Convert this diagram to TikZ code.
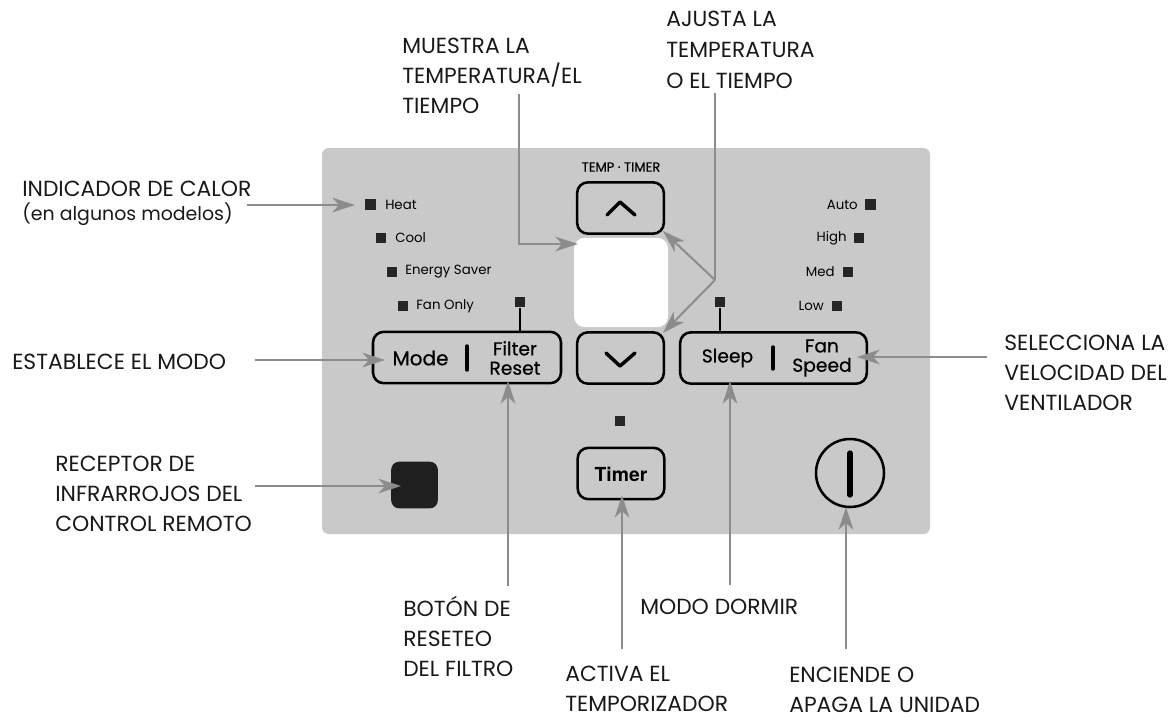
\documentclass[tikz,border=0pt]{standalone}
\usepackage{fontspec}
\setmainfont{Poppins}
\newfontfamily\panelfont[FakeBold=0.5]{Poppins}
\newfontfamily\timerfont{TeX Gyre Heros}
\usetikzlibrary{arrows.meta}
\definecolor{panelgray}{gray}{0.79}
\definecolor{arrowgray}{gray}{0.55}
\tikzset{
 x=0.75pt,y=-0.75pt,
 lab/.style={font=\fontsize{16.4}{22.5}\selectfont,align=left,anchor=north west,inner sep=0pt,text=black!90},
 led/.style={fill=black!85,minimum size=8pt,inner sep=0pt,draw=none,rectangle},
 ledtxt/.style={font=\fontsize{10}{11}\selectfont,inner sep=0pt,text=black},
 btn/.style={draw=black,line width=1.9pt,rounded corners=8pt,inner sep=0pt,fill=panelgray},
 btntxt/.style={font=\panelfont\fontsize{14}{14.5}\selectfont,inner sep=0pt,align=center,text=black},
 call/.style={draw=arrowgray,line width=1.5pt,-{Stealth[length=17pt,width=11pt,inset=5pt]}},
 plain/.style={draw=arrowgray,line width=1.5pt},
 tie/.style={draw=black,line width=2.2pt},
 bar/.style={line width=2.6pt,line cap=round},
 chev/.style={line width=2.6pt,line cap=round,line join=round},
}
\begin{document}
\begin{tikzpicture}
\useasboundingbox (0,0) rectangle (1172,719);
\fill[white] (0,0) rectangle (1172,719);
\node[draw=none,fill=panelgray,rounded corners=5pt,minimum width=456pt,minimum height=289.5pt,inner sep=0pt] (panel) at (626,341) {};
\node[fill=white,rounded corners=8pt,minimum width=70.5pt,minimum height=67pt,inner sep=0pt] (window) at (621,282.5) {};
% buttons
\node[btn,minimum width=65pt,minimum height=38.5pt] (up) at (620.5,208) {};
\node[btn,minimum width=65pt,minimum height=38.5pt] (down) at (620.5,358) {};
\node[btn,minimum width=141pt,minimum height=38.5pt] (mode) at (467,357.5) {};
\node[btn,minimum width=140pt,minimum height=38.5pt] (sleep) at (773.5,358) {};
\node[btn,minimum width=65pt,minimum height=38.5pt] (timer) at (621,473.5) {};
\node[draw=black,line width=1.9pt,circle,minimum size=51pt,inner sep=0pt,fill=panelgray] (power) at (850,473) {};
\node[fill=black!88,rounded corners=6pt,minimum width=35pt,minimum height=35pt,inner sep=0pt] (ir) at (414.5,485) {};
% glyphs
\draw[chev] (607,215) -- (620,202) -- (635,215);
\draw[chev] (606,353) -- (620,366) -- (635,353);
\draw[line width=4pt,line cap=round] (850,453) -- (850,495);
\draw[bar] (467,346) -- (467,370);
\draw[bar] (773,347) -- (773,369);
% button text
\node[btntxt,font=\panelfont\fontsize{15}{15}\selectfont] (tmode) at (420.5,358) {Mode};
\node[btntxt] (tfilter) at (515,358) {Filter\\Reset};
\node[btntxt] (tsleep) at (727.5,358) {Sleep};
\node[btntxt] (tfan) at (822,358) {Fan\\Speed};
\node[btntxt,font=\timerfont\bfseries\fontsize{14.5}{15}\selectfont] (ttimer) at (621,474) {Timer};
\node[ledtxt,font=\panelfont\fontsize{9.8}{11}\selectfont] (ttemp) at (621,167) {TEMP · TIMER};
% LEDs left
\node[led] (l1) at (370.5,204.5) {}; \node[ledtxt,anchor=west] (t1) at (385,204.5) {Heat};
\node[led] (l2) at (381,238) {}; \node[ledtxt,anchor=west] (t2) at (395,238) {Cool};
\node[led] (l3) at (392,272) {}; \node[ledtxt,anchor=west] (t3) at (405,272) {Energy Saver};
\node[led] (l4) at (403,306) {}; \node[ledtxt,anchor=west] (t4) at (416,306) {Fan Only};
\node[led] (l5) at (520,302) {};
% LEDs right
\node[led] (r1) at (870.5,204.5) {}; \node[ledtxt,anchor=east] (u1) at (858,204.5) {Auto};
\node[led] (r2) at (859,238) {}; \node[ledtxt,anchor=east] (u2) at (847,238) {High};
\node[led] (r3) at (848,272) {}; \node[ledtxt,anchor=east] (u3) at (835,272) {Med};
\node[led] (r4) at (837,306) {}; \node[ledtxt,anchor=east] (u4) at (824,306) {Low};
\node[led] (r5) at (720,302) {};
\node[led] (tled) at (620,421) {};
\draw[tie] (l5) -- (l5 |- mode.north);
\draw[tie] (r5) -- (r5 |- sleep.north);
% labels
\node[lab] (a1) at (402,38) {MUESTRA LA\\TEMPERATURA/EL\\TIEMPO};
\node[lab,font=\fontsize{16.4}{23.2}\selectfont] (a2) at (666,11) {AJUSTA LA\\TEMPERATURA\\O EL TIEMPO};
\node[lab,font=\fontsize{16.4}{18}\selectfont] (a3) at (22,181) {INDICADOR DE CALOR\\\fontsize{14.2}{18}\selectfont (en algunos modelos)};
\node[lab] (a4) at (12,354) {ESTABLECE EL MODO};
\node[lab] (a5) at (1004,335) {SELECCIONA LA\\VELOCIDAD DEL\\VENTILADOR};
\node[lab] (a6) at (55,456) {RECEPTOR DE\\INFRARROJOS DEL\\CONTROL REMOTO};
\node[lab] (a7) at (403,596) {BOTÓN DE\\RESETEO\\DEL FILTRO};
\node[lab] (a8) at (640,599) {MODO DORMIR};
\node[lab] (a9) at (565,666) {ACTIVA EL\\TEMPORIZADOR};
\node[lab] (a10) at (789,667) {ENCIENDE O\\APAGA LA UNIDAD};
% connectors
\coordinate (c1a) at (519,94); \coordinate (c1b) at (519,244); \coordinate (c1c) at (578,244);
\draw[call] (c1a) -- (c1b) -- (c1c);
\coordinate (c2a) at (715,93); \coordinate (c2j) at (715,280); \coordinate (c2u) at (663,231); \coordinate (c2d) at (663,333);
\draw[plain] (c2a) -- (c2j);
\draw[call] (c2j) -- (c2u);
\draw[call] (c2j) -- (c2d);
\coordinate (c3) at (247,205); \coordinate (c3e) at (355,205); \draw[call] (c3) -- (c3e);
\coordinate (c4) at (255,360); \coordinate (c4e) at (385,360); \draw[call] (c4) -- (c4e);
\coordinate (c5) at (987,357); \coordinate (c5e) at (857,357); \draw[call] (c5) -- (c5e);
\coordinate (c6) at (255,486); \coordinate (c6e) at (401,486); \draw[call] (c6) -- (c6e);
\coordinate (c7) at (508,586); \coordinate (c7e) at (508,381); \draw[call] (c7) -- (c7e);
\coordinate (c8) at (730,585); \coordinate (c8e) at (730,381); \draw[call] (c8) -- (c8e);
\coordinate (c9) at (622,649); \coordinate (c9e) at (622,495); \draw[call] (c9) -- (c9e);
\coordinate (c10) at (846,649); \coordinate (c10e) at (846,507); \draw[call] (c10) -- (c10e);
\end{tikzpicture}
\end{document}
